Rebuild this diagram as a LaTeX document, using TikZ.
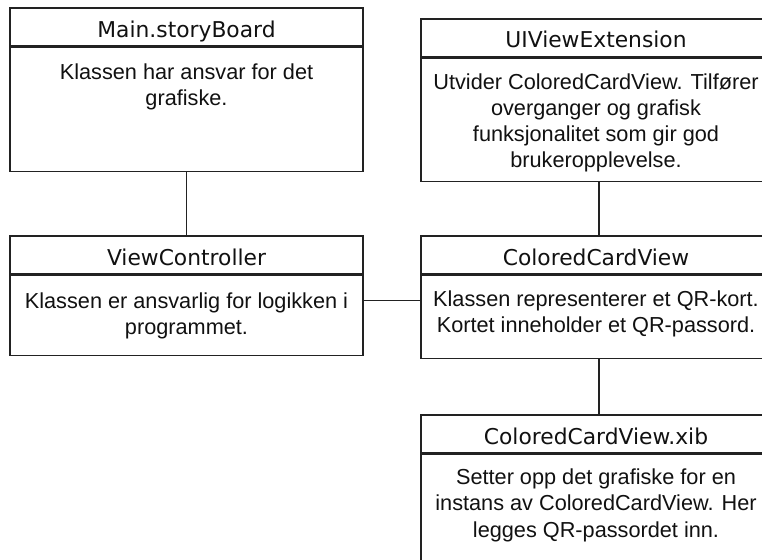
\documentclass[tikz,border=0pt]{standalone}
\usepackage{fontspec}
\setmainfont{Liberation Sans}
\newfontfamily\titlefont{DejaVu Sans}
\definecolor{linec}{HTML}{222222}
\definecolor{textc}{HTML}{111111}
\begin{document}
\begin{tikzpicture}[x=1pt,y=-1pt,
  hdr/.style={draw=linec, line width=1.2pt, minimum height=38pt, inner sep=0pt},
  title/.style={anchor=base, inner sep=0pt,
    font=\titlefont\fontsize{21.8}{26}\selectfont, text=textc},
  bodybox/.style={draw=linec, line width=1.2pt, inner sep=0pt, anchor=north},
  bodytext/.style={align=center, inner sep=0pt, anchor=north,
    font=\fontsize{21.7}{26.3}\selectfont, text=textc},
  link/.style={draw=linec, line width=1.2pt}]
\clip (0,0) rectangle (762,559);
\fill[white] (0,0) rectangle (762,559);

% left column
\node[hdr, minimum width=353pt] (msH) at (186.5,27) {};
\node[title] (msL) at ([yshift=-30pt]msH.north) {Main.storyBoard};
\node[bodybox, minimum width=353pt, minimum height=124pt] (msB) at (msH.south) {};
\node[bodytext] (msT) at ([yshift=-16.5pt]msB.north) {Klassen har ansvar for det\\grafiske.};

\node[hdr, minimum width=353pt] (vcH) at (186.5,255) {};
\node[title] (vcL) at ([yshift=-30pt]vcH.north) {ViewController};
\node[bodybox, minimum width=353pt, minimum height=80pt] (vcB) at (vcH.south) {};
\node[bodytext] (vcT) at ([yshift=-17.5pt]vcB.north) {Klassen er ansvarlig for logikken i\\programmet.};

% right column (runs past the right edge)
\node[hdr, minimum width=356pt] (uvH) at (599,38) {};
\node[title] (uvL) at ([xshift=-3pt,yshift=-29.5pt]uvH.north) {UIViewExtension};
\node[bodybox, minimum width=356pt, minimum height=123pt] (uvB) at (uvH.south) {};
\node[bodytext] (uvT) at ([xshift=-3pt,yshift=-15.5pt]uvB.north) {Utvider ColoredCardView. Tilfører\\overganger og grafisk\\funksjonalitet som gir god\\brukeropplevelse.};

\node[hdr, minimum width=356pt] (ccvH) at (599,255) {};
\node[title] (ccvL) at ([xshift=-3pt,yshift=-30pt]ccvH.north) {ColoredCardView};
\node[bodybox, minimum width=356pt, minimum height=83pt] (ccvB) at (ccvH.south) {};
\node[bodytext] (ccvT) at ([xshift=-3pt,yshift=-16pt]ccvB.north) {Klassen representerer et QR-kort.\\Kortet inneholder et QR-passord.};

\node[hdr, minimum width=356pt] (xibH) at (599,434) {};
\node[title] (xibL) at ([xshift=-3pt,yshift=-30pt]xibH.north) {ColoredCardView.xib};
\node[bodybox, minimum width=356pt, minimum height=150pt] (xibB) at (xibH.south) {};
\node[bodytext] (xibT) at ([xshift=-3pt,yshift=-15pt]xibB.north) {Setter opp det grafiske for en\\instans av ColoredCardView. Her\\legges QR-passordet inn.};

% connectors
\draw[link] (msB.south) -- (vcH.north);
\draw[link] (uvB.south) -- (ccvH.north);
\draw[link] (ccvB.south) -- (xibH.north);
\draw[link] ([yshift=15pt]vcB.east) -- ([yshift=15pt]vcB.east -| ccvB.west);
\end{tikzpicture}
\end{document}
